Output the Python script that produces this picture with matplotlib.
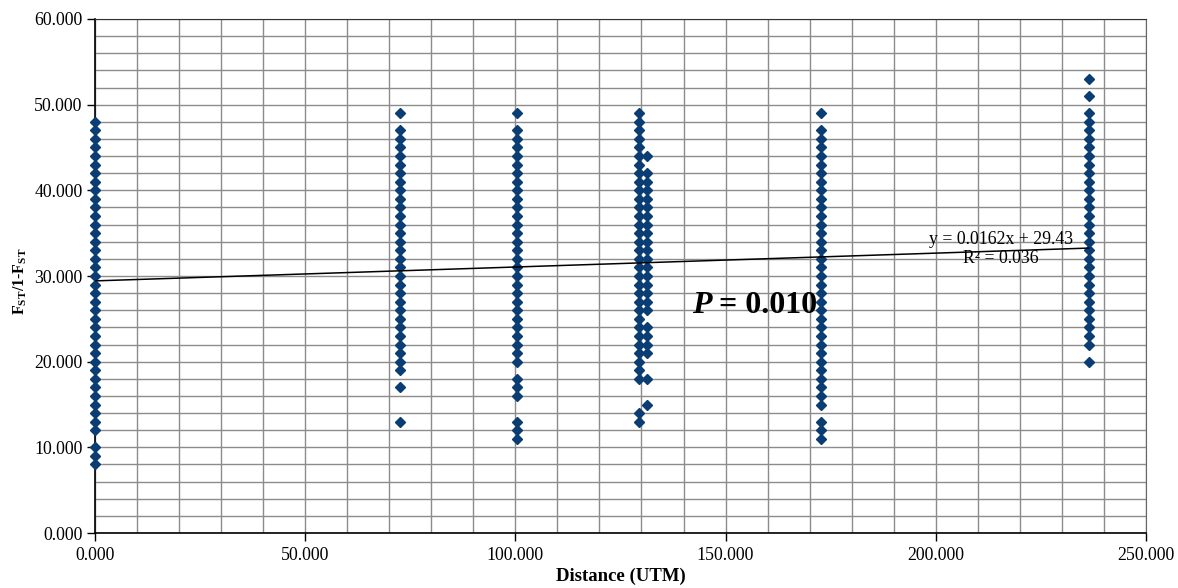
import matplotlib.pyplot as plt
from matplotlib.ticker import MultipleLocator, FormatStrFormatter
import numpy as np

plt.rcParams['font.family'] = ['Liberation Serif', 'DejaVu Serif']
plt.rcParams['mathtext.fontset'] = 'custom'
plt.rcParams['mathtext.rm'] = 'Liberation Serif'
plt.rcParams['mathtext.bf'] = 'Liberation Serif:bold'

dist = [0.0, 72.6, 100.5, 129.4, 131.4, 172.6, 236.4]
values = [
    [8, 9, 10] + list(range(12, 49)),
    [13, 17] + list(range(19, 48)) + [49],
    [11, 12, 13, 16, 17, 18] + list(range(20, 48)) + [49],
    [13, 14] + list(range(18, 50)),
    [15, 18, 21, 22, 23, 24] + list(range(26, 43)) + [44],
    [11, 12, 13] + list(range(15, 48)) + [49],
    [20] + list(range(22, 50)) + [51, 53],
]
slope = 0.0162
intercept = 29.43
r2 = 0.036
p_value = 0.010

xs = np.concatenate([[d] * len(v) for d, v in zip(dist, values)])
ys = np.concatenate(values)

fig = plt.figure(figsize=(11.78, 5.88), dpi=100)
ax = fig.add_axes([0.0806, 0.0935, 0.8922, 0.8742])

ax.set_xlim(0, 250)
ax.set_ylim(0, 60)
ax.xaxis.set_major_locator(MultipleLocator(50))
ax.xaxis.set_minor_locator(MultipleLocator(10))
ax.yaxis.set_major_locator(MultipleLocator(10))
ax.yaxis.set_minor_locator(MultipleLocator(2))
ax.xaxis.set_major_formatter(FormatStrFormatter('%.3f'))
ax.yaxis.set_major_formatter(FormatStrFormatter('%.3f'))

ax.grid(True, which='both', color='#8c8c8c', linewidth=1.0)
ax.set_axisbelow(True)
ax.tick_params(which='major', length=6, width=1, labelsize=12.8, color='black')
ax.tick_params(axis='x', pad=4)
ax.tick_params(axis='y', pad=3)
ax.tick_params(which='minor', length=0)
for s in ['left', 'bottom']:
    ax.spines[s].set_color('black')
    ax.spines[s].set_linewidth(1.2)
ax.spines['top'].set_color('#333333')
ax.spines['right'].set_color('#666666')

ax.plot(xs, ys, linestyle='none', marker='D', markersize=5,
        color='#0a3d73', zorder=3, clip_on=False)

lx = np.array([0, max(dist)])
ax.plot(lx, slope * lx + intercept, color='black', linewidth=1.1, zorder=4)

ax.text(215.5, 34.3, f"y = {slope}x + {intercept}",
        ha='center', va='center', fontsize=12.8, zorder=5)
ax.text(215.5, 32.0, f"R² = {r2:.3f}",
        ha='center', va='center', fontsize=12.8, zorder=5)

t1 = ax.text(142.0, 26.6, "P", ha='left', va='center', fontsize=23,
             fontweight='bold', fontstyle='italic', zorder=5)
ax.annotate(f" = {p_value:.3f}", xy=(1, 0.5), xycoords=t1, ha='left',
            va='center', fontsize=23, fontweight='bold', zorder=5)

ax.set_xlabel("Distance (UTM)", fontsize=13.5, fontweight='bold')
ax.xaxis.set_label_coords(0.5, -0.067)
ax.set_ylabel(r"F$_{\mathbf{ST}}$/1-F$_{\mathbf{ST}}$", fontsize=11.5,
              fontweight='bold')
ax.yaxis.set_label_coords(-0.063, 0.49)

fig.savefig("out.png", dpi=100)
